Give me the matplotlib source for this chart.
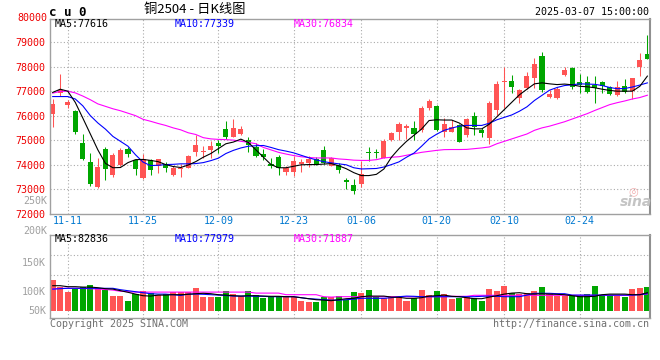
import matplotlib

matplotlib.use("Agg")
import matplotlib.pyplot as plt
import numpy as np
import pandas as pd

holidays = ["2025-01-01", "2025-01-28", "2025-01-29", "2025-01-30",
            "2025-01-31", "2025-02-03", "2025-02-04"]
dates = pd.bdate_range("2024-11-07", "2025-03-07")
dates = dates[~dates.isin(pd.to_datetime(holidays))]

date_labels = ["11-11", "11-25", "12-09", "12-23", "01-06", "01-20", "02-10", "02-24"]

opens = [76050, 76910, 76440, 76170, 74880, 74120, 73090, 74650, 73560, 73970,
         74650, 74170, 73440, 74170, 73950, 74040, 73560, 73800, 73870, 74530,
         74504, 74610, 74885, 75470, 75140, 75240, 75020, 74710, 74450, 74040,
         74300, 73690, 73690, 74030, 74070, 74210, 74610, 73930, 74000, 73360,
         73150, 73220, 74530, 74530, 74270, 75000, 75350, 75490, 75500, 75430,
         76310, 76390, 75330, 75350, 75600, 75190, 75970, 75410, 75080, 76250,
         77370, 77430, 76730, 77140, 77520, 78450, 76770, 76710, 77650, 77950,
         77380, 77380, 77270, 77380, 77180, 76840, 77230, 77000, 77970, 78530]
closes = [76480, 77035, 76550, 75330, 74240, 73200, 73920, 73810, 74400, 74600,
          74450, 73810, 74240, 73770, 74210, 73840, 73880, 73840, 74370, 74810,
          74545, 74750, 74750, 75120, 75510, 75470, 74820, 74370, 74310, 73930,
          73840, 73840, 74160, 74110, 74210, 74040, 74070, 74270, 73770, 73280,
          72910, 73630, 74480, 74480, 74960, 75300, 75640, 75570, 75230, 76310,
          76580, 75410, 75640, 75540, 74940, 75880, 75540, 75300, 76500, 77280,
          77410, 77180, 77040, 77610, 78120, 77040, 76890, 77100, 77880, 77180,
          77270, 76960, 77110, 77230, 76870, 77160, 76980, 77520, 78290, 78310]
highs = [76680, 77710, 76640, 76240, 75240, 74480, 74280, 74710, 74480, 74690,
         74720, 74240, 74430, 74240, 74240, 74110, 73950, 74030, 74400, 75210,
         74750, 74950, 75020, 75770, 75880, 75560, 75120, 74890, 74640, 74250,
         74410, 73960, 74340, 74210, 74340, 74310, 74750, 74300, 74070, 73460,
         73390, 74140, 74710, 74640, 75050, 75350, 75730, 75670, 75780, 76390,
         76660, 76420, 75910, 75840, 75640, 75910, 76140, 75500, 76590, 77410,
         77990, 77680, 77070, 77770, 78350, 78610, 77040, 77180, 77970, 77970,
         77720, 77610, 77610, 77410, 77200, 77410, 77480, 77540, 78560, 79300]
lows = [75530, 76800, 76300, 75240, 74200, 73130, 73040, 73360, 73500, 73950,
        74300, 73570, 73410, 73570, 73640, 73680, 73530, 73480, 73840, 74370,
        74270, 74270, 74480, 75050, 75120, 75210, 74500, 74310, 74200, 73870,
        73590, 73570, 73550, 73690, 73900, 74000, 74040, 73930, 73660, 73010,
        72800, 73090, 74140, 74270, 74250, 74960, 75020, 75050, 75020, 75320,
        76250, 75370, 75130, 75330, 74910, 75130, 75190, 75130, 74850, 76010,
        76330, 76930, 76500, 77100, 77140, 76960, 76740, 76660, 77610, 77100,
        76930, 76930, 76530, 76910, 76850, 76800, 76930, 76660, 77640, 78310]

ma5 = [76950, 77080, 77000, 76540, 75900, 75250, 74600, 74050, 73870, 73880,
       74080, 74200, 74210, 74170, 74120, 74000, 73920, 73880, 73980, 74120,
       74300, 74450, 74650, 74850, 74920, 75040, 74900, 74600, 74300, 74000,
       73870, 73870, 73930, 73990, 74000, 74000, 74020, 74040, 73950, 73830,
       73670, 73550, 73550, 73600, 73820, 74300, 74650, 74950, 75200, 75450,
       75800, 75830, 75820, 75820, 75700, 75500, 75460, 75460, 75650, 75950,
       76250, 76550, 76850, 77080, 77300, 77340, 77300, 77270, 77290, 77260,
       77200, 77180, 77140, 77080, 77030, 77000, 77000, 77000, 77200, 77616]
ma10 = [76780, 76780, 76780, 76680, 76400, 76000, 75700, 75450, 75150, 74950,
        74750, 74400, 74100, 73960, 73970, 74000, 74010, 74030, 74030, 74040,
        74080, 74160, 74260, 74450, 74580, 74680, 74750, 74770, 74780, 74700,
        74610, 74550, 74480, 74380, 74280, 74190, 74120, 74070, 74030, 73990,
        73870, 73820, 73830, 73840, 73900, 74000, 74110, 74300, 74470, 74750,
        75050, 75240, 75400, 75490, 75570, 75600, 75600, 75600, 75690, 75830,
        75930, 76030, 76180, 76360, 76620, 76830, 77040, 77150, 77230, 77260,
        77300, 77290, 77280, 77230, 77150, 77100, 77110, 77170, 77250, 77339]
ma30 = [76920, 76990, 77000, 76930, 76800, 76650, 76480, 76380, 76280, 76200,
        76100, 76000, 75850, 75770, 75680, 75600, 75500, 75420, 75300, 75230,
        75100, 75050, 75030, 75020, 75000, 74950, 74910, 74850, 74700, 74600,
        74500, 74430, 74370, 74320, 74290, 74270, 74270, 74270, 74230, 74210,
        74180, 74170, 74170, 74200, 74270, 74300, 74320, 74380, 74440, 74500,
        74540, 74580, 74610, 74615, 74615, 74620, 74650, 74680, 74720, 74850,
        74950, 75050, 75150, 75250, 75400, 75500, 75570, 75660, 75750, 75860,
        75970, 76080, 76210, 76330, 76450, 76530, 76600, 76680, 76740, 76834]

# volume in thousands of lots
vols = [153, 117, 95, 108, 120, 128, 115, 103, 75, 75,
        48, 83, 98, 87, 80, 83, 92, 92, 95, 113,
        68, 68, 68, 98, 83, 75, 98, 78, 65, 67,
        75, 73, 67, 50, 45, 45, 70, 67, 73, 53,
        93, 88, 103, 70, 63, 70, 67, 48, 62, 103,
        78, 98, 83, 58, 65, 70, 65, 48, 108, 98,
        123, 87, 83, 87, 98, 118, 83, 72, 72, 73,
        73, 83, 123, 78, 78, 73, 70, 108, 113, 118]
vma5 = [125, 125, 120, 120, 118, 118, 115, 110, 108, 100,
        92, 83, 75, 73, 78, 78, 80, 80, 82, 85,
        87, 85, 80, 78, 75, 73, 75, 75, 73, 72,
        72, 70, 70, 65, 60, 55, 53, 50, 55, 60,
        62, 70, 73, 73, 73, 68, 67, 62, 62, 65,
        73, 75, 78, 72, 70, 65, 60, 60, 68, 75,
        83, 88, 90, 85, 83, 85, 83, 82, 80, 75,
        70, 70, 72, 80, 83, 83, 83, 80, 80, 90]
vma10 = [108, 110, 112, 112, 112, 112, 112, 112, 112, 105,
         100, 95, 90, 85, 83, 83, 80, 76, 83, 83,
         82, 80, 78, 76, 73, 73, 73, 72, 72, 70,
         70, 70, 70, 65, 60, 58, 55, 53, 53, 55,
         58, 62, 62, 62, 62, 65, 70, 73, 72, 70,
         70, 70, 70, 70, 70, 70, 70, 72, 73, 72,
         70, 70, 70, 78, 87, 87, 87, 85, 85, 78,
         78, 78, 78, 78, 78, 78, 78, 78, 80, 85]
vma30 = [108, 112, 112, 112, 111, 110, 108, 106, 103, 97,
         95, 93, 93, 93, 93, 93, 93, 93, 93, 93,
         93, 93, 93, 93, 93, 93, 93, 88, 88, 88,
         88, 80, 80, 80, 80, 80, 70, 68, 70, 70,
         70, 70, 70, 70, 70, 70, 70, 70, 70, 70,
         70, 70, 70, 72, 72, 72, 77, 77, 77, 77,
         77, 77, 77, 77, 77, 77, 77, 77, 77, 77,
         77, 77, 77, 77, 77, 77, 77, 77, 83, 83]

price_ticks = [72000, 73000, 74000, 75000, 76000, 77000, 78000, 79000]

# ---- style ----
W, H = 660, 360
RED = "#ff5454"
GREEN = "#00a600"
MONO = "DejaVu Sans Mono"
FS = 7.2
LW = 0.8
GRID = dict(color="#aaaaaa", linestyle=(0, (1, 2)), linewidth=0.8)


def rect(l, t, r, b):
    return [l / W, 1 - b / H, (r - l) / W, (b - t) / H]


def ftext(x, y, s, **kw):
    kw.setdefault("family", MONO)
    kw.setdefault("fontsize", FS)
    fig.text(x / W, 1 - y / H, s, **kw)


x = np.arange(len(dates))
o = np.array(opens)
c = np.array(closes)
up = c >= o
colors = np.where(up, RED, GREEN)
tick_idx = [list(dates.strftime("%m-%d")).index(d) for d in date_labels]

fig = plt.figure(figsize=(W / 100, H / 100), dpi=100)
ax = fig.add_axes(rect(50, 19, 650, 213.5))
axv = fig.add_axes(rect(50, 234.7, 650, 318))

# ---- price panel ----
body_lo = np.minimum(o, c)
body_h = np.maximum(np.abs(c - o), 40)
ax.vlines(x, lows, highs, colors=colors, linewidth=0.75)
ax.bar(x, body_h, bottom=body_lo, width=0.68, color=colors, linewidth=0)
ax.plot(x, ma30, color="#ff00ff", linewidth=LW)
ax.plot(x, ma10, color="#0000ff", linewidth=LW)
ax.plot(x, ma5, color="black", linewidth=LW)

ax.set_xlim(-0.36, 79.35)
ax.set_ylim(72000, 79950)
ax.set_yticks(price_ticks)
ax.set_yticklabels([str(v) for v in price_ticks], family=MONO, fontsize=FS, color="#ee0000")
ax.set_xticks(tick_idx)
ax.set_xticklabels(date_labels, family=MONO, fontsize=FS, color="#0078d0")
ax.tick_params(axis="both", length=0)
ax.tick_params(axis="y", pad=3)
ax.tick_params(axis="x", pad=1.5)
for v in price_ticks[1:]:
    ax.axhline(v, zorder=0, **GRID)
for t in tick_idx:
    ax.axvline(t, zorder=0, **GRID)
    axv.axvline(t, zorder=0, **GRID)
ax.text(-0.75, 80000, "80000", family=MONO, fontsize=FS, color="#ee0000",
        ha="right", va="center", clip_on=False)
ax.text(-0.75, 72500, "250K", family=MONO, fontsize=FS, color="#a0a0a0",
        ha="right", va="center", clip_on=False)

# ---- volume panel ----
axv.bar(x, vols, width=0.8, color=colors, linewidth=0)
axv.plot(x, vma30, color="#ff00ff", linewidth=LW)
axv.plot(x, vma10, color="#0000ff", linewidth=LW)
axv.plot(x, vma5, color="black", linewidth=LW)
axv.set_xlim(-0.36, 79.35)
axv.set_ylim(-36.5, 380)
axv.set_xticks([])
axv.set_yticks([245, 100, 3.5])
axv.set_yticklabels(["150K", "100K", "50K"], family=MONO, fontsize=FS, color="#a0a0a0")
axv.tick_params(axis="both", length=0)
axv.tick_params(axis="y", pad=3)
for v in [278, 177]:
    axv.axhline(v, zorder=0, **GRID)
axv.text(-0.75, 400, "200K", family=MONO, fontsize=FS, color="#a0a0a0",
         ha="right", va="center", clip_on=False)

for a in (ax, axv):
    for s in a.spines.values():
        s.set_color("#a0a0a0")
        s.set_linewidth(1.0)
    a.spines["right"].set_color("#909090")
    a.spines["right"].set_linewidth(1.5)

# ---- header / footer texts ----
ftext(49, 12, "c u 0", fontsize=9, fontweight="bold", va="center")
fig.text(195 / W, 1 - 10 / H, "铜2504 - 日K线图", family=["Noto Sans CJK SC", "DejaVu Sans"],
         fontsize=9.5, ha="center", va="center")
ftext(649, 12, "2025-03-07 15:00:00", ha="right", va="center")
ftext(55, 24, "MA5:77616", color="black", va="center")
ftext(175, 24, "MA10:77339", color="#0000ff", va="center")
ftext(294, 24, "MA30:76834", color="#ff00ff", va="center")
ftext(55, 238.5, "MA5:82836", color="black", va="center")
ftext(175, 238.5, "MA10:77979", color="#0000ff", va="center")
ftext(294, 238.5, "MA30:71887", color="#ff00ff", va="center")
ftext(50, 324, "Copyright 2025 SINA.COM", color="#707070", va="center")
ftext(649, 324, "http://finance.sina.com.cn", color="#707070", ha="right", va="center")
fig.text(633 / W, 1 - 191 / H, "◎", fontsize=8, color="#f2b0b0", ha="center", va="center")
fig.text(636 / W, 1 - 202 / H, "sina", fontsize=10, fontweight="bold", style="italic",
         color="#c4c4c4", ha="center", va="center")

plt.savefig("out.png", dpi=100)
plt.close()
